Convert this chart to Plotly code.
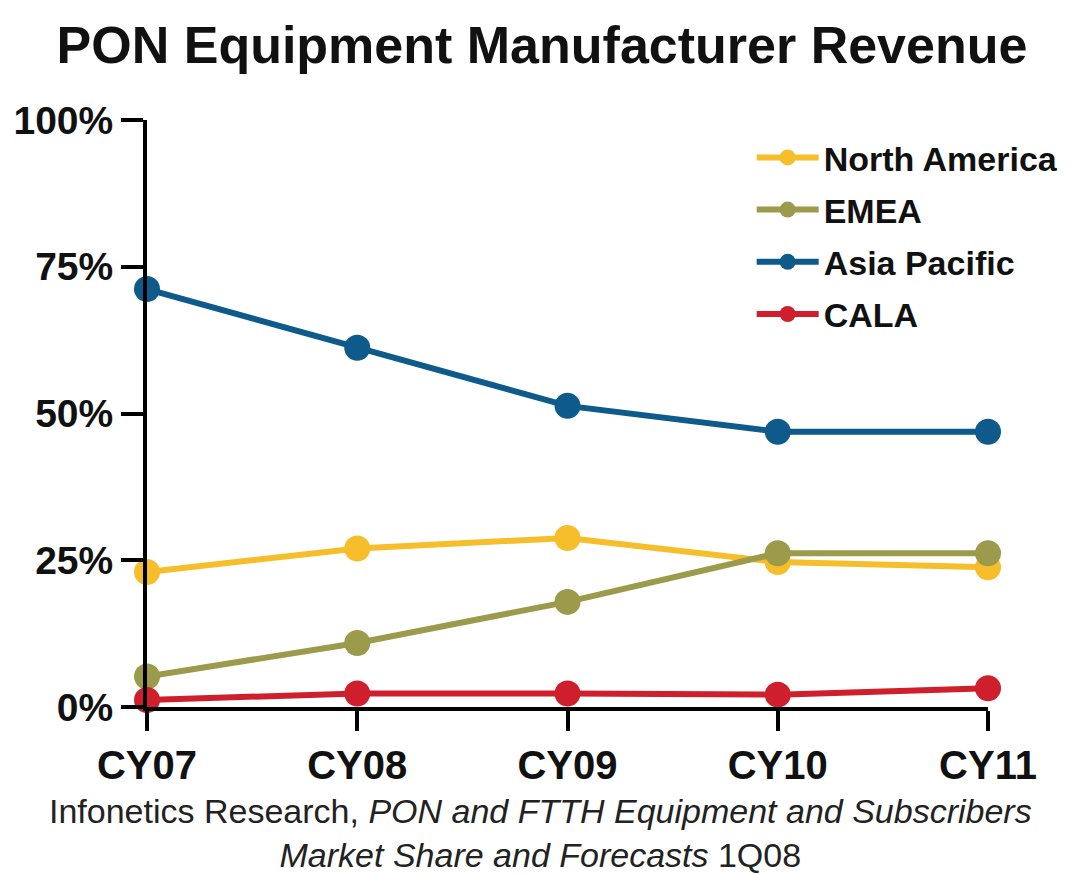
import plotly.graph_objects as go

categories = ["CY07", "CY08", "CY09", "CY10", "CY11"]
north_america = [23.0, 27.0, 28.8, 24.7, 23.8]
emea = [5.2, 10.9, 17.9, 26.2, 26.2]
asia_pacific = [71.2, 61.2, 51.3, 46.9, 46.9]
cala = [1.2, 2.3, 2.3, 2.1, 3.2]

series = [
    ("North America", north_america, "#F6BE2A"),
    ("EMEA", emea, "#9C9A4B"),
    ("Asia Pacific", asia_pacific, "#0E5A8A"),
    ("CALA", cala, "#D01F2C"),
]

y_ticks = [0, 25, 50, 75, 100]
y_tick_labels = ["0%", "25%", "50%", "75%", "100%"]

fig = go.Figure()
for i, (name, vals, color) in enumerate(series):
    fig.add_trace(go.Scatter(
        x=categories, y=vals, name=name, mode="lines+markers",
        line=dict(color=color, width=6),
        marker=dict(color=color, size=26),
        cliponaxis=False, legendgroup=str(i),
    ))

BOLD = "Liberation Sans, Arial, sans-serif"

fig.update_layout(
    width=1065, height=866,
    margin=dict(l=139, r=85, t=112, b=167, autoexpand=False),
    plot_bgcolor="white", paper_bgcolor="white",
    title=dict(text="<b>PON Equipment Manufacturer Revenue</b>",
               x=0.5014, xanchor="center", y=0.958, yanchor="middle",
               font=dict(family=BOLD, size=52, color="#111")),
    showlegend=True,
    legend=dict(x=0.719, y=0.985, xanchor="left", yanchor="top",
                font=dict(family=BOLD, size=34, color="#111", weight="bold"),
                tracegroupgap=5, bgcolor="rgba(0,0,0,0)", itemwidth=62),
    xaxis=dict(type="category", range=[0, 4], showgrid=False, zeroline=False,
               showline=True, linecolor="black", linewidth=4,
               ticks="outside", ticklen=20, tickwidth=4, tickcolor="black",
               tickfont=dict(family=BOLD, size=40, color="#111", weight="bold")),
    yaxis=dict(range=[0, 100], tickvals=y_ticks, ticktext=y_tick_labels,
               showgrid=False, zeroline=False,
               showline=True, linecolor="black", linewidth=4,
               ticks="outside", ticklen=22, tickwidth=4, tickcolor="black",
               tickfont=dict(family=BOLD, size=39, color="#111", weight="bold")),
    annotations=[dict(
        text="Infonetics Research, <i>PON and FTTH Equipment and Subscribers</i><br><i>Market Share and Forecasts</i> 1Q08",
        xref="paper", yref="paper", x=0.468, y=-0.2147, xanchor="center", yanchor="middle",
        showarrow=False, font=dict(family="Liberation Sans, Arial, sans-serif", size=34, color="#222"),
        align="center")],
)

fig.write_html("out.html")
